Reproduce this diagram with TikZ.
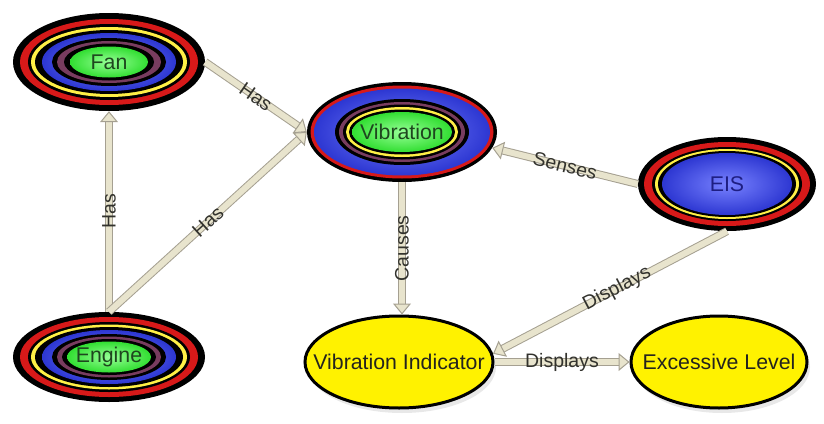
\documentclass[tikz,border=0pt]{standalone}
\usepackage{fontspec}
\setmainfont{Liberation Sans}
\usetikzlibrary{shapes.geometric,arrows.meta,shadows}

\definecolor{edgeline}{RGB}{165,160,145}
\definecolor{shaftfill}{RGB}{232,228,205}
\definecolor{labelgray}{RGB}{50,50,45}
\definecolor{cred}{RGB}{215,25,25}
\definecolor{cyellow}{RGB}{255,240,70}
\definecolor{cblue}{RGB}{45,55,210}
\definecolor{cblueinner}{RGB}{120,130,255}
\definecolor{cplum}{RGB}{120,60,95}
\definecolor{cgreen}{RGB}{50,222,50}
\definecolor{cgreeninner}{RGB}{150,255,150}
\definecolor{ovalyellow}{RGB}{255,242,0}
\definecolor{greentext}{RGB}{30,70,30}
\definecolor{bluetext}{RGB}{30,30,130}
\definecolor{darktext}{RGB}{35,35,30}

\tikzset{
  ringblack/.style={fill=black},
  ringred/.style={fill=cred},
  ringyellow/.style={fill=cyellow},
  ringblue/.style={shade, inner color=cblueinner, outer color=cblue},
  ringplum/.style={fill=cplum},
  ringgreen/.style={shade, inner color=cgreeninner, outer color=cgreen},
  bignodefont/.style={font=\fontsize{21.3}{24}\selectfont},
  conceptoval/.style={ellipse, inner sep=0pt, bignodefont},
  % negative x padding keeps the oval at its set size around wide text
  plainoval/.style={ellipse, inner ysep=0pt, inner xsep=-25pt, bignodefont,
    draw=black, line width=3pt, fill=ovalyellow, text=darktext,
    drop shadow={opacity=0.18, shadow xshift=3pt, shadow yshift=-5pt}},
  link/.style={draw=edgeline, line width=1pt, double=shaftfill,
    double distance=6pt,
    -{Triangle[width=18pt,length=11pt,line width=1pt,fill=shaftfill,color=edgeline]}},
  linklabel/.style={font=\fontsize{19.5}{22}\selectfont, text=labelgray,
    inner sep=1pt},
}

% concentric filled ovals: #1 centre, #2 list of style/xradius/yradius
\newcommand{\layeredoval}[2]{%
  \foreach \ringstyle/\rx/\ry in {#2} {%
    \path[\ringstyle] (#1) ellipse [x radius=\rx pt, y radius=\ry pt];%
  }%
}

\begin{document}
\begin{tikzpicture}[x=1pt,y=-1pt]
\useasboundingbox (0,0) rectangle (824,423);

% ringed concept ovals
\layeredoval{109,62}{ringblack/96/49, ringred/89/43, ringblack/81/38,
  ringyellow/78/35, ringblack/74/32, ringblue/67/29, ringblack/57/24,
  ringplum/52/21, ringblack/45/18.5, ringgreen/39/15.5}
\node[conceptoval, minimum width=192pt, minimum height=98pt, text=greentext]
  (fan) at (109,62) {Fan};

\layeredoval{109,357}{ringblack/96/45, ringred/89/40, ringblack/81/35,
  ringyellow/78/32.5, ringblack/74/30, ringblue/67/27, ringblack/57/23,
  ringplum/52/20.5, ringblack/47/18, ringgreen/42/15.5}
\node[conceptoval, minimum width=192pt, minimum height=90pt, text=greentext]
  (engine) at (109,357) {Engine};

\layeredoval{402,132}{ringblack/95/50, ringred/91.5/46.5, ringblue/88/43.5,
  ringblack/67/33, ringplum/63/30, ringblack/59/27.5, ringyellow/56/25,
  ringblack/53/22.5, ringgreen/50/20}
\node[conceptoval, minimum width=190pt, minimum height=100pt, text=greentext]
  (vib) at (402,132) {Vibration};

\layeredoval{727,184}{ringblack/89/47, ringred/83/42, ringblack/75/37,
  ringyellow/72/35, ringblack/69/33, ringblue/65/31}
\node[conceptoval, minimum width=178pt, minimum height=94pt, text=bluetext]
  (eis) at (727,184) {EIS};

% plain yellow ovals
\node[plainoval, minimum width=188pt, minimum height=92pt]
  (vi) at (399,362) {Vibration Indicator};
\node[plainoval, minimum width=176pt, minimum height=92pt]
  (el) at (719,362) {Excessive Level};

% connectors
\draw[link] (fan.east) -- node[linklabel, sloped] {Has} (vib.west);
\draw[link] (engine.north) -- node[linklabel, sloped] {Has} (fan);
\draw[link] (engine.north) -- node[linklabel, sloped] {Has} (vib.west);
\draw[link] (vib.south) -- node[linklabel, rotate=90] {Causes} (vib.south |- vi.north);
\draw[link] (eis.west) -- node[linklabel, sloped] {Senses} (vib.-10);
\draw[link] (eis.south) -- node[linklabel, sloped, pos=0.47] {Displays} (vi.5);
\draw[link] (vi.east) -- node[linklabel] {Displays} (el.west);
\end{tikzpicture}
\end{document}
